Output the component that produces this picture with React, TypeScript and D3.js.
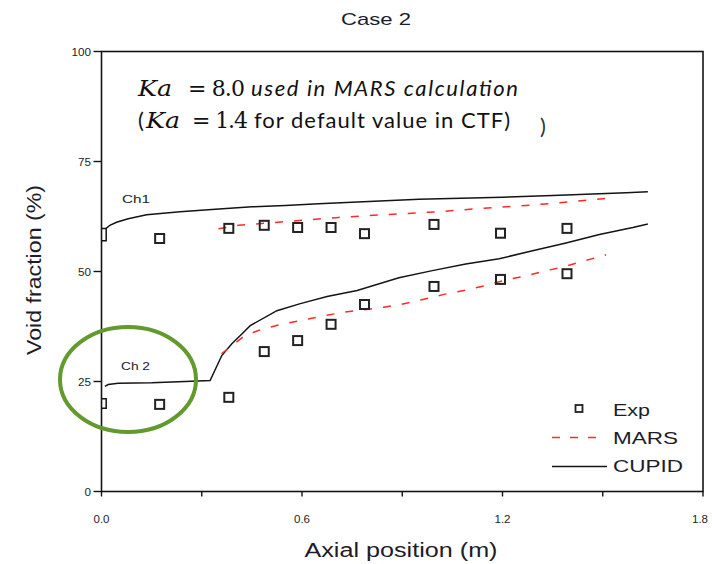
import React from "react";
import * as d3 from "d3";

// Axial positions of the measurements (m)
const expX = [0.174, 0.381, 0.487, 0.587, 0.687, 0.787, 0.995, 1.194, 1.393];
// Measured void fraction (%) in channel 1 and channel 2
const expCh1 = [57.5, 59.8, 60.5, 60.0, 60.0, 58.6, 60.7, 58.7, 59.8];
const expCh2 = [19.8, 21.4, 31.8, 34.3, 38.0, 42.5, 46.6, 48.2, 49.5];

// MARS prediction
const marsCh1X = [0.35, 0.41, 0.53, 0.71, 0.89, 1.01, 1.13, 1.25, 1.37, 1.51];
const marsCh1Y = [59.7, 60.5, 61.2, 62.3, 63.1, 63.6, 64.3, 64.9, 65.6, 66.6];
const marsCh2X = [0.359, 0.43, 0.485, 0.545, 0.605, 0.67, 0.725, 0.785, 0.845, 0.895, 0.965, 1.025, 1.085, 1.145, 1.205, 1.265, 1.325, 1.385, 1.44, 1.51];
const marsCh2Y = [31.3, 35.5, 37.0, 38.1, 39.0, 40.0, 40.75, 41.3, 41.9, 42.5, 43.7, 44.8, 45.7, 46.7, 48.0, 48.9, 50.1, 51.1, 52.3, 53.8];

// CUPID prediction
const cupidCh1X = [0.014, 0.025, 0.045, 0.08, 0.135, 0.235, 0.33, 0.45, 0.55, 0.65, 0.8, 0.95, 1.2, 1.35, 1.47, 1.57, 1.635];
const cupidCh1Y = [59.8, 60.5, 61.2, 62.0, 62.9, 63.6, 64.1, 64.7, 65.0, 65.4, 65.9, 66.4, 66.9, 67.3, 67.6, 67.9, 68.1];
const cupidCh2X = [0.01, 0.02, 0.05, 0.15, 0.25, 0.325, 0.36, 0.39, 0.42, 0.445, 0.525, 0.595, 0.675, 0.765, 0.89, 0.99, 1.09, 1.19, 1.29, 1.39, 1.49, 1.59, 1.635];
const cupidCh2Y = [23.9, 24.3, 24.6, 24.7, 25.0, 25.2, 30.9, 33.6, 35.8, 37.7, 41.1, 42.7, 44.3, 45.7, 48.6, 50.2, 51.7, 52.9, 54.7, 56.5, 58.4, 60.0, 60.8];
// Inlet step of each CUPID channel at x = 0 (upper, lower value)
const cupidInletCh1 = [59.8, 57.0];
const cupidInletCh2 = [21.1, 18.9];
const inletWidth = 0.014;

const xMajorTicks = [0, 0.6, 1.2, 1.8];
const xMinorTicks = [0.3, 0.9, 1.5];
const xTickLabels = ["0.0", "0.6", "1.2", "1.8"];
const yTicks = [0, 25, 50, 75, 100];
const yTickLabels = ["0", "25", "50", "75", "100"];

const W = 712;
const H = 564;
const plot = { left: 101.5, right: 703, top: 51.5, bottom: 491.5 };

const x = d3.scaleLinear().domain([0, 1.8]).range([plot.left, plot.right]);
const y = d3.scaleLinear().domain([0, 100]).range([plot.bottom, plot.top]);

const zip = (xs: number[], ys: number[]) => xs.map((v, i) => [v, ys[i]] as [number, number]);
const line = d3
  .line<[number, number]>()
  .x((d) => x(d[0]))
  .y((d) => y(d[1]));

const inlet = (v: number[]) =>
  line([
    [0, v[0]],
    [inletWidth, v[0]],
    [inletWidth, v[1]],
    [0, v[1]],
  ]);

const TXT = "#1c1c2a";
const SANS = "'Liberation Sans', Arial, sans-serif";
const MATH = "'DejaVu Serif', serif";
const BODY = "Lato, 'Open Sans', sans-serif";
const RED = "#ff2a2a";
const BLK = "#141414";

// wide, slightly stretched glyphs for small labels
const labelWidth = (s: string) => s.split("").reduce((a, c) => a + (c === "." ? 3 : 6.5), 0);

export default function App() {
  const sq = 9;
  const wide = "spacingAndGlyphs";
  return (
    <svg width={W} height={H} style={{ position: "absolute", left: 0, top: 0, background: "#fff" }}>
      {/* title */}
      <text x={376} y={25} textAnchor="middle" fontFamily={SANS} fontSize={17} fill={TXT} textLength={70} lengthAdjust={wide}>
        Case 2
      </text>

      {/* frame */}
      <rect x={plot.left} y={plot.top} width={plot.right - plot.left} height={plot.bottom - plot.top} fill="none" stroke={BLK} strokeWidth={1.6} />

      {/* y axis */}
      {yTicks.map((t, i) => (
        <g key={"y" + t}>
          <line x1={plot.left - 8} x2={plot.left} y1={y(t)} y2={y(t)} stroke={BLK} strokeWidth={1.4} />
          <text
            x={91}
            y={y(t) + 4}
            textAnchor="end"
            fontFamily={SANS}
            fontSize={11}
            fill={TXT}
            textLength={labelWidth(yTickLabels[i])}
            lengthAdjust={wide}
          >
            {yTickLabels[i]}
          </text>
        </g>
      ))}

      {/* x axis */}
      {xMajorTicks.map((t, i) => (
        <g key={"x" + t}>
          <line x1={x(t)} x2={x(t)} y1={plot.bottom} y2={plot.bottom + 5} stroke={BLK} strokeWidth={1.4} />
          <text
            x={Math.min(x(t), 700)}
            y={plot.bottom + 31}
            textAnchor="middle"
            fontFamily={SANS}
            fontSize={11}
            fill={TXT}
            textLength={labelWidth(xTickLabels[i])}
            lengthAdjust={wide}
          >
            {xTickLabels[i]}
          </text>
        </g>
      ))}
      {xMinorTicks.map((t) => (
        <line key={"xm" + t} x1={x(t)} x2={x(t)} y1={plot.bottom} y2={plot.bottom + 5} stroke={BLK} strokeWidth={1.4} />
      ))}

      {/* axis titles */}
      <text x={401} y={557} textAnchor="middle" fontFamily={SANS} fontSize={20} fill={TXT} textLength={193} lengthAdjust={wide}>
        Axial position (m)
      </text>
      <text
        transform={`translate(41,270) rotate(-90)`}
        textAnchor="middle"
        fontFamily={SANS}
        fontSize={20}
        fill={TXT}
        textLength={170}
        lengthAdjust={wide}
      >
        Void fraction (%)
      </text>

      {/* CUPID */}
      <g fill="none" stroke={BLK} strokeWidth={1.5}>
        <path d={inlet(cupidInletCh1) || ""} />
        <path d={inlet(cupidInletCh2) || ""} />
        <path d={line(zip(cupidCh1X, cupidCh1Y)) || ""} />
        <path d={line(zip(cupidCh2X, cupidCh2Y)) || ""} />
      </g>

      {/* MARS */}
      <g fill="none" stroke={RED} strokeWidth={1.5} strokeDasharray="8,11">
        <path d={line(zip(marsCh1X, marsCh1Y)) || ""} />
        <path d={line(zip(marsCh2X, marsCh2Y)) || ""} />
      </g>

      {/* experiment */}
      <g fill="none" stroke="#222" strokeWidth={2}>
        {expX.map((v, i) => (
          <rect key={"e1" + i} x={x(v) - sq / 2} y={y(expCh1[i]) - sq / 2} width={sq} height={sq} />
        ))}
        {expX.map((v, i) => (
          <rect key={"e2" + i} x={x(v) - sq / 2} y={y(expCh2[i]) - sq / 2} width={sq} height={sq} />
        ))}
      </g>

      {/* channel labels */}
      <text x={122} y={203} fontFamily={SANS} fontSize={11} fill={TXT} textLength={28} lengthAdjust={wide}>
        Ch1
      </text>
      <text x={121} y={370} fontFamily={SANS} fontSize={11} fill={TXT} textLength={29} lengthAdjust={wide}>
        Ch 2
      </text>

      {/* highlight around channel 2 inlet */}
      <ellipse cx={128} cy={379.5} rx={68} ry={52.5} fill="none" stroke="#639a2e" strokeWidth={4} />

      {/* legend */}
      <rect x={575.5} y={405} width={7} height={7} fill="none" stroke="#222" strokeWidth={1.8} />
      <text x={613} y={416} fontFamily={SANS} fontSize={17} fill={TXT} textLength={37} lengthAdjust={wide}>
        Exp
      </text>
      <line x1={552} x2={602} y1={437.5} y2={437.5} stroke={RED} strokeWidth={1.5} strokeDasharray="8,10" />
      <text x={613} y={443.5} fontFamily={SANS} fontSize={17} fill={TXT} textLength={65} lengthAdjust={wide}>
        MARS
      </text>
      <line x1={552} x2={607} y1={466.5} y2={466.5} stroke={BLK} strokeWidth={1.5} />
      <text x={613} y={472} fontFamily={SANS} fontSize={17} fill={TXT} textLength={70} lengthAdjust={wide}>
        CUPID
      </text>

      {/* annotation */}
      <g fill="#111" fontSize={22}>
        <text x={138} y={96} fontFamily={MATH} fontStyle="italic" textLength={34} lengthAdjust={wide}>
          Ka
        </text>
        <text x={188} y={96} fontFamily={MATH} textLength={57} lengthAdjust="spacing">
          = 8.0
        </text>
        <text x={251} y={96} fontFamily={BODY} fontStyle="italic" textLength={267} lengthAdjust="spacing">
          used in MARS calculation
        </text>
        <text x={138} y={128} fontFamily={BODY}>
          (
        </text>
        <text x={146} y={128} fontFamily={MATH} fontStyle="italic" textLength={34} lengthAdjust={wide}>
          Ka
        </text>
        <text x={192} y={128} fontFamily={MATH} textLength={56} lengthAdjust="spacing">
          = 1.4
        </text>
        <text x={254} y={128} fontFamily={BODY} textLength={256} lengthAdjust="spacing">
          for default value in CTF)
        </text>
        <text x={540} y={134} fontFamily={BODY} fill="#333">
          )
        </text>
      </g>
    </svg>
  );
}
